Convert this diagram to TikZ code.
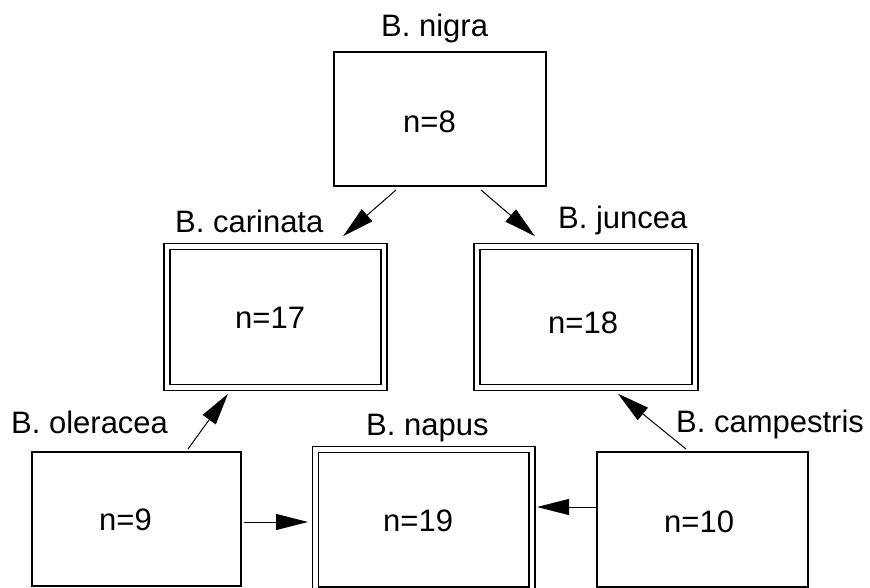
\documentclass[tikz,border=0pt]{standalone}
\usepackage{fontspec}
\setmainfont{Liberation Sans}
\usetikzlibrary{arrows.meta,calc}

\begin{document}
\begin{tikzpicture}[x=1pt,y=-1pt,
  plainbox/.style 2 args={draw,line width=1.4pt,inner sep=0pt,outer sep=0pt,
    minimum width=#1pt,minimum height=#2pt},
  dblbox/.style 2 args={draw,double,double distance=4.6pt,line width=1.3pt,
    inner sep=0pt,outer sep=0pt,minimum width=#1pt,minimum height=#2pt},
  txt/.style={font=\fontsize{31}{37}\selectfont,inner sep=0pt,anchor=base west},
  arr/.style={-{Triangle[length=32pt,width=16pt]},line width=1pt}]

\clip (0,0) rectangle (870,588);

% genome boxes
\node[plainbox={212}{134}] (nigra) at (440,119) {};
\node[dblbox={217}{140.5}] (carinata) at (275.5,317) {};
\node[dblbox={218}{140.5}] (juncea) at (586,317) {};
\node[plainbox={209}{134}] (oleracea) at (136.5,519) {};
\node[dblbox={216.5}{140.5}] (napus) at (423.75,519.75) {};
\node[plainbox={211}{135}] (campestris) at (702.5,519.5) {};

% species names
\node[txt] (lnigra) at (381,36.7) {B. nigra};
\node[txt] (lcarinata) at (175,233) {B. carinata};
\node[txt] (ljuncea) at (558,229) {B. juncea};
\node[txt] (loleracea) at (11,433) {B. oleracea};
\node[txt] (lnapus) at (366,435) {B. napus};
\node[txt] (lcampestris) at (676,432.7) {B. campestris};

% chromosome numbers
\node[txt] (nnigra) at (403,133) {n=8};
\node[txt] (ncarinata) at (235,328) {n=17};
\node[txt] (njuncea) at (548,333) {n=18};
\node[txt] (noleracea) at (99,530) {n=9};
\node[txt] (nnapus) at (383,531) {n=19};
\node[txt] (ncampestris) at (664,532) {n=10};

% hybridisation arrows
\draw[arr] ($(nigra.south)+(-44,4)$) -- ($(carinata.north)+(67.5,-10.5)$);
\draw[arr] ($(nigra.south)+(41,4)$) -- ($(juncea.north)+(-51,-10.5)$);
\draw[arr] ($(oleracea.north)+(51.5,-3)$) -- ($(carinata.south)+(-47.5,6.5)$);
\draw[arr] ($(oleracea.east)+(3,3)$) -- ($(napus.west)+(-7.5,2.25)$);
\draw[arr] ($(campestris.west)+(0,-12.5)$) -- ($(napus.east)+(5,-12.75)$);
\draw[arr] ($(campestris.north)+(-16.5,-3)$) -- ($(juncea.south)+(32,6.5)$);
\end{tikzpicture}
\end{document}
